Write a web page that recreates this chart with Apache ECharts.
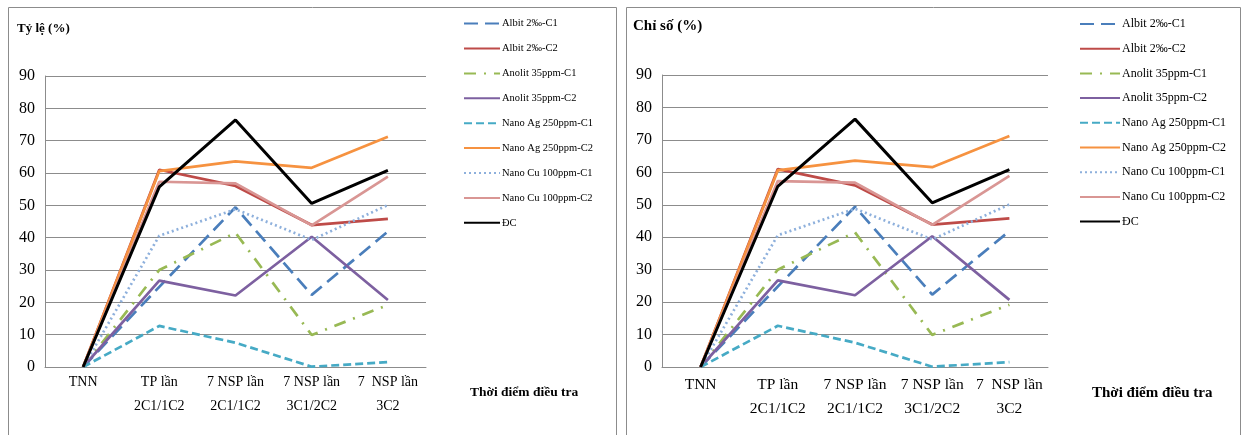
<!DOCTYPE html>
<html>
<head>
<meta charset="utf-8">
<script src="https://cdn.jsdelivr.net/npm/echarts@6/dist/echarts.min.js"></script>
<style>
  html, body { margin: 0; padding: 0; background: #fff; }
  #chart { width: 1246px; height: 435px; }
</style>
</head>
<body>
<div id="chart"></div>
<script>
// categories on the x axis
var categories = ['TNN', 'TP lần\n2C1/1C2', '7 NSP lần\n2C1/1C2', '7 NSP lần\n3C1/2C2', '7  NSP lần\n3C2'];
var yTicks = [0, 10, 20, 30, 40, 50, 60, 70, 80, 90];

// series values (same in both panels)
var albitC1 = [0, 24.8, 49.4, 22.3, 41.9];
var albitC2 = [0, 61.0, 56.0, 43.9, 45.8];
var anolitC1 = [0, 30.0, 41.5, 9.9, 19.2];
var anolitC2 = [0, 26.7, 22.1, 40.3, 20.7];
var nanoAgC1 = [0, 12.7, 7.5, 0.1, 1.5];
var nanoAgC2 = [0, 60.6, 63.6, 61.6, 71.2];
var nanoCuC1 = [0, 40.6, 48.8, 39.3, 50.1];
var nanoCuC2 = [0, 57.3, 56.8, 43.8, 58.9];
var dc = [0, 55.7, 76.4, 50.6, 60.8];

var seriesDefs = [
  { name: 'Albit 2‰-C1', data: albitC1, color: '#4A7EBB', type: [14, 7], width: 2.7 },
  { name: 'Albit 2‰-C2', data: albitC2, color: '#BE4B48', type: 'solid', width: 2.7 },
  { name: 'Anolit 35ppm-C1', data: anolitC1, color: '#98B954', type: [12, 8, 2, 8], width: 2.7 },
  { name: 'Anolit 35ppm-C2', data: anolitC2, color: '#7D60A0', type: 'solid', width: 2.7 },
  { name: 'Nano Ag 250ppm-C1', data: nanoAgC1, color: '#46AAC5', type: [8, 4], width: 2.7 },
  { name: 'Nano Ag 250ppm-C2', data: nanoAgC2, color: '#F69240', type: 'solid', width: 2.7 },
  { name: 'Nano Cu 100ppm-C1', data: nanoCuC1, color: '#8EB0DC', type: [2, 3], width: 2.7 },
  { name: 'Nano Cu 100ppm-C2', data: nanoCuC2, color: '#D99694', type: 'solid', width: 2.7 },
  { name: 'ĐC', data: dc, color: '#000000', type: 'solid', width: 3 }
];

var serif = '"Liberation Serif", "Times New Roman", serif';

var chart = echarts.init(document.getElementById('chart'));

function makeSeries(idx) {
  return seriesDefs.map(function (s) {
    return {
      name: s.name,
      type: 'line',
      xAxisIndex: idx,
      yAxisIndex: idx,
      data: s.data,
      symbol: 'none',
      animation: false,
      lineStyle: { color: s.color, width: s.width, type: s.type },
      itemStyle: { color: s.color }
    };
  });
}

function xAxisFor(idx, fontSize, margin) {
  return {
    type: 'category',
    gridIndex: idx,
    data: categories,
    boundaryGap: true,
    axisLine: { lineStyle: { color: '#8c8c8c', width: 1 } },
    axisTick: { show: false },
    axisLabel: { color: '#000', fontFamily: serif, fontSize: fontSize, lineHeight: 24, margin: margin, interval: 0 }
  };
}

function yAxisFor(idx) {
  return {
    type: 'value',
    gridIndex: idx,
    min: yTicks[0],
    max: yTicks[yTicks.length - 1],
    interval: 10,
    axisLine: { show: true, lineStyle: { color: '#8c8c8c', width: 1 } },
    axisTick: { show: false },
    splitLine: { lineStyle: { color: '#8c8c8c', width: 1 } },
    axisLabel: { color: '#000', fontFamily: serif, fontSize: 16, margin: 10 }
  };
}

function legendFor(left, top, itemWidth, gap, fontSize) {
  return {
    orient: 'vertical',
    left: left,
    top: top,
    padding: 0,
    itemWidth: itemWidth,
    itemHeight: 14,
    itemGap: gap,
    itemStyle: { opacity: 0 },
    textStyle: { color: '#000', fontFamily: serif, fontSize: fontSize, padding: [0, 0, 0, -3] },
    data: seriesDefs.map(function (s) { return s.name; })
  };
}

chart.setOption({
  animation: false,
  grid: [
    { left: 45, top: 76, width: 381, height: 291 },
    { left: 662, top: 75, width: 386, height: 292 }
  ],
  xAxis: [xAxisFor(0, 14, 3), xAxisFor(1, 15.5, 6)],
  yAxis: [yAxisFor(0), yAxisFor(1)],
  legend: [legendFor(463, 18, 36, 13.7, 10.5), legendFor(1079, 18, 40, 12.7, 12)],
  graphic: [
    { type: 'rect', shape: { x: 8.5, y: 7.5, width: 608, height: 440 }, style: { fill: 'none', stroke: '#8c8c8c', lineWidth: 1 }, z: -1 },
    { type: 'rect', shape: { x: 626.5, y: 7.5, width: 614, height: 440 }, style: { fill: 'none', stroke: '#8c8c8c', lineWidth: 1 }, z: -1 },
    { type: 'text', left: 17, top: 22, style: { text: 'Tỷ lệ (%)', fontFamily: serif, fontWeight: 'bold', fontSize: 13, fill: '#000' } },
    { type: 'text', left: 633, top: 19, style: { text: 'Chỉ số (%)', fontFamily: serif, fontWeight: 'bold', fontSize: 15, fill: '#000' } },
    { type: 'text', left: 470, top: 386, style: { text: 'Thời điểm điều tra', fontFamily: serif, fontWeight: 'bold', fontSize: 13.5, fill: '#000' } },
    { type: 'text', left: 1092, top: 386, style: { text: 'Thời điểm điều tra', fontFamily: serif, fontWeight: 'bold', fontSize: 15, fill: '#000' } }
  ],
  series: makeSeries(0).concat(makeSeries(1))
});

window.addEventListener('resize', function () { chart.resize(); });
</script>
</body>
</html>
